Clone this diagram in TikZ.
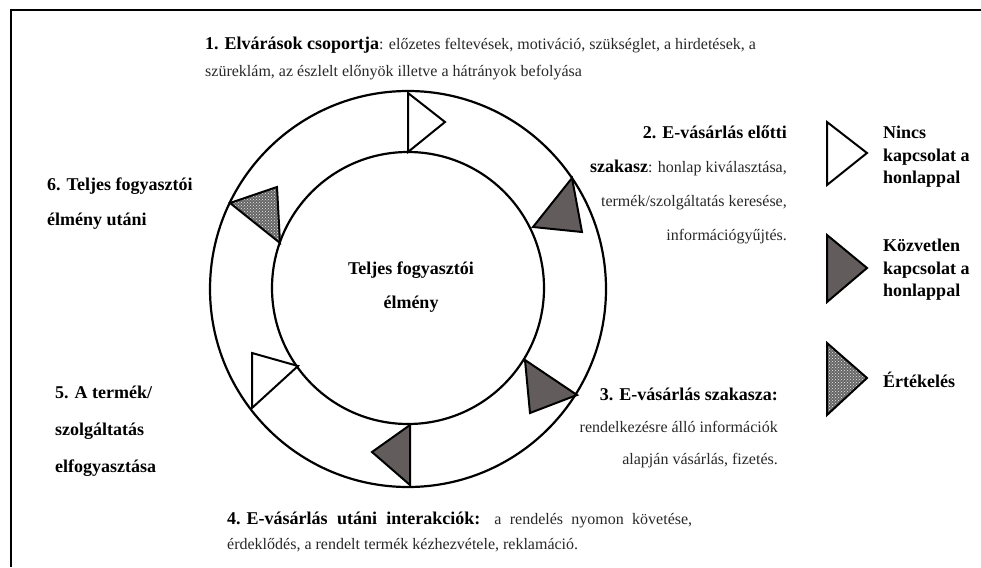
\documentclass[tikz,border=0pt]{standalone}
\usepackage{fontspec}
\setmainfont{Liberation Serif}
\usetikzlibrary{patterns}
\definecolor{darkfill}{RGB}{98,92,92}
\definecolor{txtgray}{RGB}{40,40,40}
\newcommand{\hd}[1]{{\fontsize{18}{18}\selectfont\bfseries\color{black}#1}}
\tikzset{
  ring/.style={draw, circle, line width=2.2pt, inner sep=0pt},
  opentri/.style={draw, line width=2pt, fill=white, line join=miter},
  fulltri/.style={draw, line width=2pt, fill=darkfill, line join=miter},
  dottri/.style={draw, line width=2pt, line join=miter, preaction={fill=black!60},
    pattern=crosshatch dots, pattern color=white!85!gray},
  txtblk/.style={inner sep=0pt, text=txtgray},
  hdblk/.style={inner sep=0pt, font=\fontsize{18}{22.5}\selectfont\bfseries},
}
\begin{document}
\begin{tikzpicture}[x=1pt, y=-1pt]
\useasboundingbox (0,0) rectangle (981,567);

% frame
\draw[line width=2pt] (981,10) -- (11,10) -- (11,567);

% rings
\node[ring, minimum size=396pt] (outer) at (408,289) {};
\node[ring, minimum size=272pt] (inner) at (408,288) {};
\node[hdblk, align=center, font=\fontsize{18}{34}\selectfont\bfseries] (core) at (411,287)
  {Teljes fogyasztói\\élmény};

% stage markers
\draw[opentri] (408,93) -- (445,122) -- (408,152) -- cycle;
\draw[fulltri] (572,178) -- (582,232) -- (533,227) -- cycle;
\draw[fulltri] (577,395) -- (530,413) -- (525,360) -- cycle;
\draw[fulltri] (410,485) -- (372,452) -- (410,425) -- cycle;
\draw[opentri] (252,408) -- (252,353) -- (298,366) -- cycle;
\draw[dottri] (230,203) -- (277,187) -- (280,243) -- cycle;

% stage texts
\node[txtblk, anchor=north west, align=left, font=\fontsize{16}{27}\selectfont] (expect) at (205,37)
  {\hd{1. Elvárások csoportja}: előzetes feltevések, motiváció, szükséglet, a hirdetések, a\\
   szüreklám, az észlelt előnyök illetve a hátrányok befolyása};
\node[txtblk, anchor=north east, align=right, font=\fontsize{16}{34}\selectfont] (before) at (787,126)
  {\hd{2. E-vásárlás előtti}\\
   \hd{szakasz}: honlap kiválasztása,\\
   termék/szolgáltatás keresése,\\
   információgyűjtés.};
\node[txtblk, anchor=north east, align=right, font=\fontsize{16}{32}\selectfont] (during) at (778,388)
  {\hd{3. E-vásárlás szakasza:}\\
   rendelkezésre álló információk\\
   alapján vásárlás, fizetés.};
\node[txtblk, anchor=north west, align=left, font=\fontsize{16}{25}\selectfont] (after) at (227,512)
  {\makebox[465pt][s]{\hd{\mbox{4. E-vásárlás} utáni interakciók:} a rendelés nyomon követése,}\\
   érdeklődés, a rendelt termék kézhezvétele, reklamáció.};
\node[hdblk, anchor=north west, align=left, font=\fontsize{18}{36.7}\selectfont\bfseries] (consume) at (55,386)
  {5. A termék/\\szolgáltatás\\elfogyasztása};
\node[hdblk, anchor=north west, align=left, font=\fontsize{18}{35}\selectfont\bfseries] (postexp) at (47,178)
  {6. Teljes fogyasztói\\élmény utáni};

% legend
\draw[opentri] (827,122) -- (867,153) -- (827,185) -- cycle;
\draw[fulltri] (827,235) -- (867,268) -- (827,302) -- cycle;
\draw[dottri] (827,343) -- (867,378) -- (827,415) -- cycle;
\node[hdblk, anchor=north west, align=left] (nolink) at (883,126) {Nincs\\kapcsolat a\\honlappal};
\node[hdblk, anchor=north west, align=left] (directlink) at (883,239) {Közvetlen\\kapcsolat a\\honlappal};
\node[hdblk, anchor=west] (evaltxt) at (883,380) {Értékelés};

\end{tikzpicture}
\end{document}
